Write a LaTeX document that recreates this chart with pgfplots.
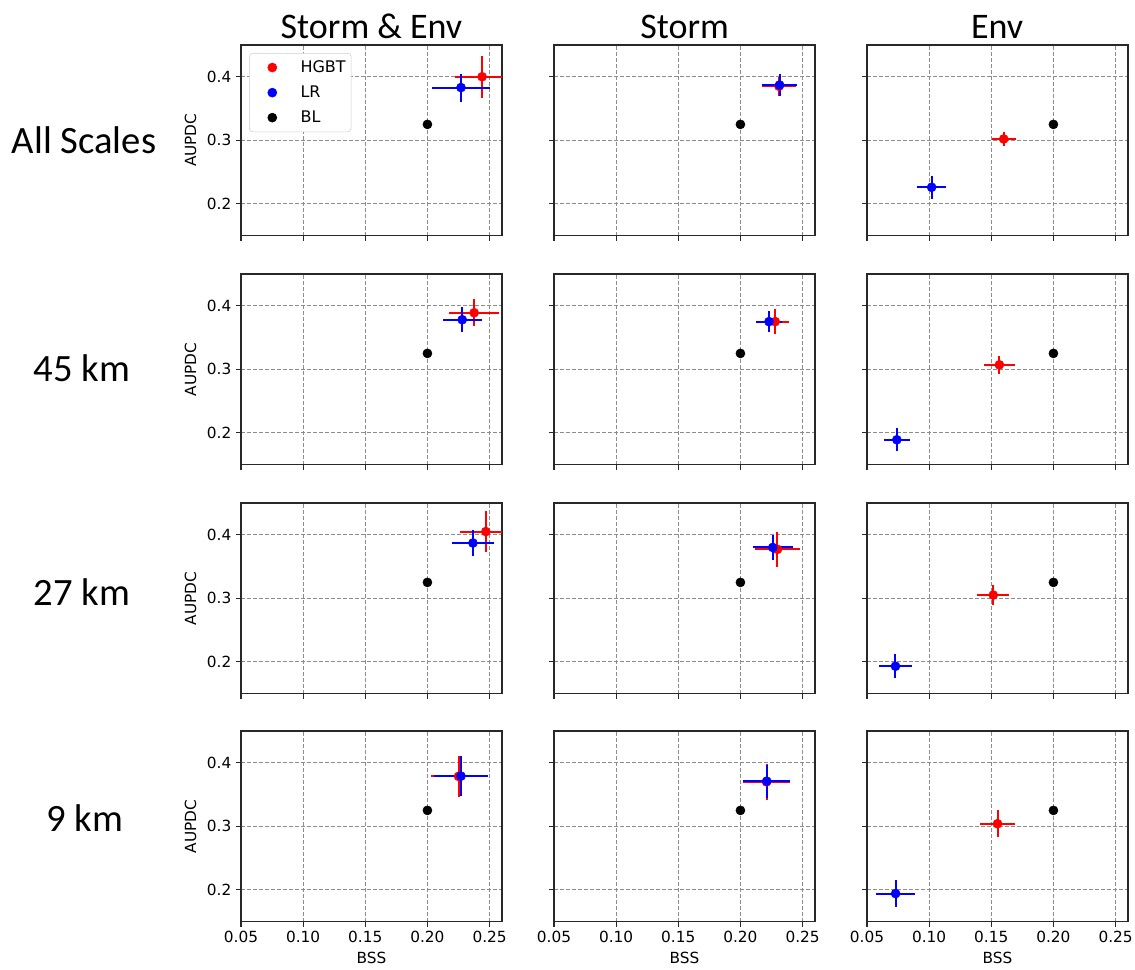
\documentclass[border=0pt]{standalone}
\usepackage{fontspec}
\setmainfont{DejaVu Sans}
\newfontfamily\titlefont{Carlito}
\usepackage{pgfplots}
\pgfplotsset{compat=1.18}
\definecolor{gridgray}{RGB}{140,140,140}
\definecolor{spine}{RGB}{40,40,40}
\pgfplotsset{
  panel/.style={
    anchor=north west, scale only axis, width=195.75pt, height=142.9pt,
    xmin=0.05, xmax=0.26, ymin=0.15, ymax=0.45,
    xtick={0.05,0.1,0.15,0.2,0.25}, ytick={0.2,0.3,0.4},
    grid=major, grid style={gridgray, line width=0.6pt, dash pattern=on 3pt off 1.5pt},
    axis line style={line width=0.8pt, spine},
    tick align=outside, tick pos=left, major tick length=3.75pt,
    tick style={line width=0.8pt, spine},
    xticklabels={}, yticklabels={},
    tick label style={font=\fontsize{11.5}{13}\selectfont},
    label style={font=\fontsize{11.5}{13}\selectfont},
  },
  leftcol/.style={yticklabels={0.2,0.3,0.4}, ylabel={AUPDC}, ylabel shift=1pt},
  bottomrow/.style={xticklabels={0.05,0.10,0.15,0.20,0.25}, xlabel={BSS}},
  hgbt/.style={only marks, mark=*, mark size=3.4pt, red,
    error bars/.cd, x dir=both, x explicit, y dir=both, y explicit,
    error mark=none, error bar style={line width=1.5pt, draw=red}},
  lr/.style={only marks, mark=*, mark size=3.4pt, blue,
    error bars/.cd, x dir=both, x explicit, y dir=both, y explicit,
    error mark=none, error bar style={line width=1.5pt, draw=blue}},
  bl/.style={only marks, mark=*, mark size=3.4pt, black},
}
\newcommand{\panel}[5]{%
\begin{axis}[panel, at={(#1pt,#2pt)}, #3]
\addplot[hgbt] coordinates {#4};
\addplot[lr] coordinates {#5};
\addplot[bl] coordinates {(0.2,0.325)};
\end{axis}}
\begin{document}
\begin{tikzpicture}
\path[use as bounding box] (0,0) rectangle (851.25pt,-727.5pt);
% Row 1: All Scales
\panel{180.75}{-33.75}{leftcol, legend entries={HGBT,LR,BL},
  legend image code/.code={\path (0pt,0pt) (34pt,0pt);
    \draw[#1] plot coordinates {(15pt,0pt)};},
  legend style={at={(0.031,0.958)}, anchor=north west, draw=black!20, rounded corners=2.5pt,
  font=\fontsize{12}{14}\selectfont, row sep=4.5pt, legend cell align=left,
  inner xsep=2pt, inner ysep=3.5pt}}
  {(0.244,0.400) +- (0.022,0.033)}{(0.227,0.383) +- (0.023,0.022)}
\panel{415.5}{-33.75}{}
  {(0.231,0.385) +- (0.014,0.015)}{(0.2315,0.387) +- (0.0143,0.018)}
\panel{650.25}{-33.75}{}
  {(0.160,0.302) +- (0.0095,0.011)}{(0.102,0.226) +- (0.0117,0.018)}
% Row 2: 45 km
\panel{180.75}{-205.5}{leftcol}
  {(0.2376,0.389) +- (0.020,0.021)}{(0.228,0.378) +- (0.0157,0.020)}
\panel{415.5}{-205.5}{}
  {(0.228,0.375) +- (0.011,0.020)}{(0.223,0.375) +- (0.0106,0.016)}
\panel{650.25}{-205.5}{}
  {(0.1565,0.307) +- (0.0125,0.014)}{(0.074,0.189) +- (0.0107,0.018)}
% Row 3: 27 km
\panel{180.75}{-377.25}{leftcol}
  {(0.247,0.405) +- (0.021,0.032)}{(0.2366,0.387) +- (0.0167,0.020)}
\panel{415.5}{-377.25}{}
  {(0.2298,0.377) +- (0.018,0.0275)}{(0.226,0.380) +- (0.016,0.0195)}
\panel{650.25}{-377.25}{}
  {(0.1516,0.305) +- (0.0128,0.0156)}{(0.0729,0.193) +- (0.013,0.019)}
% Row 4: 9 km
\panel{180.75}{-548.25}{leftcol, bottomrow}
  {(0.225,0.3786) +- (0.022,0.0326)}{(0.227,0.379) +- (0.022,0.031)}
\panel{415.5}{-548.25}{bottomrow}
  {(0.221,0.370) +- (0.019,0.028)}{(0.2212,0.371) +- (0.019,0.026)}
\panel{650.25}{-548.25}{bottomrow}
  {(0.155,0.304) +- (0.0137,0.021)}{(0.073,0.194) +- (0.016,0.021)}
% Titles
\node[font=\titlefont\fontsize{27}{30}\selectfont, anchor=base] at (278.6pt,-29.25pt) {Storm \& Env};
\node[font=\titlefont\fontsize{27}{30}\selectfont, anchor=base] at (513.4pt,-29.25pt) {Storm};
\node[font=\titlefont\fontsize{27}{30}\selectfont, anchor=base] at (747.8pt,-29.25pt) {Env};
\node[font=\titlefont\fontsize{29}{32}\selectfont] at (63pt,-105pt) {All Scales};
\node[font=\titlefont\fontsize{29}{32}\selectfont] at (61.5pt,-276pt) {45 km};
\node[font=\titlefont\fontsize{29}{32}\selectfont] at (61.5pt,-444pt) {27 km};
\node[font=\titlefont\fontsize{29}{32}\selectfont] at (63.75pt,-613.5pt) {9 km};
\end{tikzpicture}
\end{document}
